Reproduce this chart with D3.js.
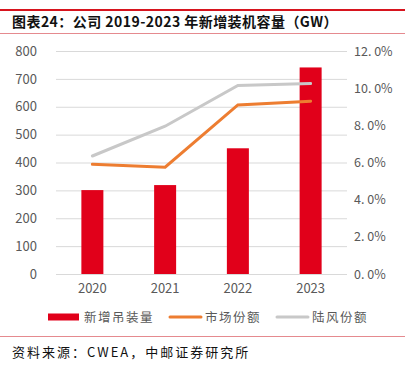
<!DOCTYPE html>
<html>
<head>
<meta charset="utf-8">
<style>
  body { margin: 0; background: #fff; }
  text { font-family: 'Noto Sans CJK SC', 'Liberation Sans', sans-serif; }
</style>
</head>
<body>
<svg width="405" height="374"></svg>
<script src="https://d3js.org/d3.v7.min.js"></script>
<script>
// data
var years = ["2020", "2021", "2022", "2023"];
var installs = [301, 319, 451, 741];          // 新增吊装量 (GW)
var marketShare = [5.9, 5.75, 9.1, 9.3];      // 市场份额 (%)
var onshoreShare = [6.35, 7.95, 10.15, 10.25]; // 陆风份额 (%)
var leftTicks = [0, 100, 200, 300, 400, 500, 600, 700, 800];
var rightTicks = [0, 2, 4, 6, 8, 10, 12];

var svg = d3.select("svg");
var red = "#E1001A", orange = "#ED7D31", grey = "#C8C8C8", txt = "#595959";

// header lines + title
svg.append("line").attr("x1", 0).attr("x2", 405).attr("y1", 10).attr("y2", 10)
  .attr("stroke", "#D7141E").attr("stroke-width", 2);
svg.append("line").attr("x1", 0).attr("x2", 405).attr("y1", 33.5).attr("y2", 33.5)
  .attr("stroke", "#E58A8F").attr("stroke-width", 1);
svg.append("text").attr("x", 12).attr("y", 27)
  .attr("font-size", 14).attr("font-weight", "bold").attr("fill", "#111")
  .attr("letter-spacing", 0.45)
  .text("图表24：公司 2019-2023 年新增装机容量（GW）");

var x = d3.scaleBand().domain(years).range([56, 347]);
var yL = d3.scaleLinear().domain([0, 800]).range([274, 51]);
var yR = d3.scaleLinear().domain([0, 12]).range([274, 51]);

// gridlines
svg.append("g").selectAll("line").data(leftTicks).enter().append("line")
  .attr("x1", 56).attr("x2", 347)
  .attr("y1", function(d) { return yL(d) + 0.5; })
  .attr("y2", function(d) { return yL(d) + 0.5; })
  .attr("stroke", "#D9D9D9").attr("stroke-width", 1);

// left axis
var axL = svg.append("g").attr("transform", "translate(56,0)")
  .call(d3.axisLeft(yL).tickValues(leftTicks).tickSize(0).tickPadding(19));
axL.select(".domain").remove();
axL.selectAll("text").attr("font-size", 13).attr("fill", txt)
  .attr("font-family", "'Liberation Sans', sans-serif");

// right axis
var axR = svg.append("g").attr("transform", "translate(347,0)")
  .call(d3.axisRight(yR).tickValues(rightTicks).tickSize(0).tickPadding(7)
    .tickFormat(function(d) { return d.toFixed(1).replace(".", ". ") + "%"; }));
axR.select(".domain").remove();
axR.selectAll("text").attr("font-size", 12.5).attr("fill", txt)
  .attr("font-family", "'Liberation Sans', sans-serif");

// bottom axis
var axB = svg.append("g").attr("transform", "translate(0,274)")
  .call(d3.axisBottom(x).tickSize(0).tickPadding(10));
axB.select(".domain").remove();
axB.selectAll("text").attr("font-size", 13).attr("fill", txt)
  .attr("font-family", "'Liberation Sans', sans-serif");

// bars
var bw = 22;
svg.append("g").selectAll("rect").data(installs).enter().append("rect")
  .attr("x", function(d, i) { return x(years[i]) + x.bandwidth() / 2 - bw / 2; })
  .attr("y", function(d) { return yL(d); })
  .attr("width", bw)
  .attr("height", function(d) { return yL(0) - yL(d); })
  .attr("fill", red);

// lines
var line = d3.line()
  .x(function(d, i) { return x(years[i]) + x.bandwidth() / 2; })
  .y(function(d) { return yR(d); });
svg.append("path").datum(onshoreShare).attr("d", line)
  .attr("fill", "none").attr("stroke", grey).attr("stroke-width", 3).attr("stroke-linecap", "round");
svg.append("path").datum(marketShare).attr("d", line)
  .attr("fill", "none").attr("stroke", orange).attr("stroke-width", 3).attr("stroke-linecap", "round");

// legend
var ly = 317;
var legend = [
  { name: "新增吊装量", color: red, type: "rect", x: 48 },
  { name: "市场份额", color: orange, type: "line", x: 169 },
  { name: "陆风份额", color: grey, type: "line", x: 276 }
];
legend.forEach(function(l) {
  if (l.type === "rect") {
    svg.append("rect").attr("x", l.x).attr("y", ly - 3.5).attr("width", 31).attr("height", 7).attr("fill", l.color);
  } else {
    svg.append("line").attr("x1", l.x + 1).attr("x2", l.x + 32).attr("y1", ly).attr("y2", ly)
      .attr("stroke", l.color).attr("stroke-width", 3).attr("stroke-linecap", "round");
  }
  svg.append("text").attr("x", l.x + 36).attr("y", ly + 4.5)
    .attr("font-size", 12.5).attr("letter-spacing", 1.5).attr("fill", txt).text(l.name);
});

// footer
svg.append("line").attr("x1", 0).attr("x2", 405).attr("y1", 336.5).attr("y2", 336.5)
  .attr("stroke", "#E58A8F").attr("stroke-width", 1);
svg.append("text").attr("x", 12).attr("y", 357)
  .attr("font-size", 13).attr("letter-spacing", 2).attr("fill", "#111")
  .text("资料来源：CWEA，中邮证券研究所");
</script>
</body>
</html>
